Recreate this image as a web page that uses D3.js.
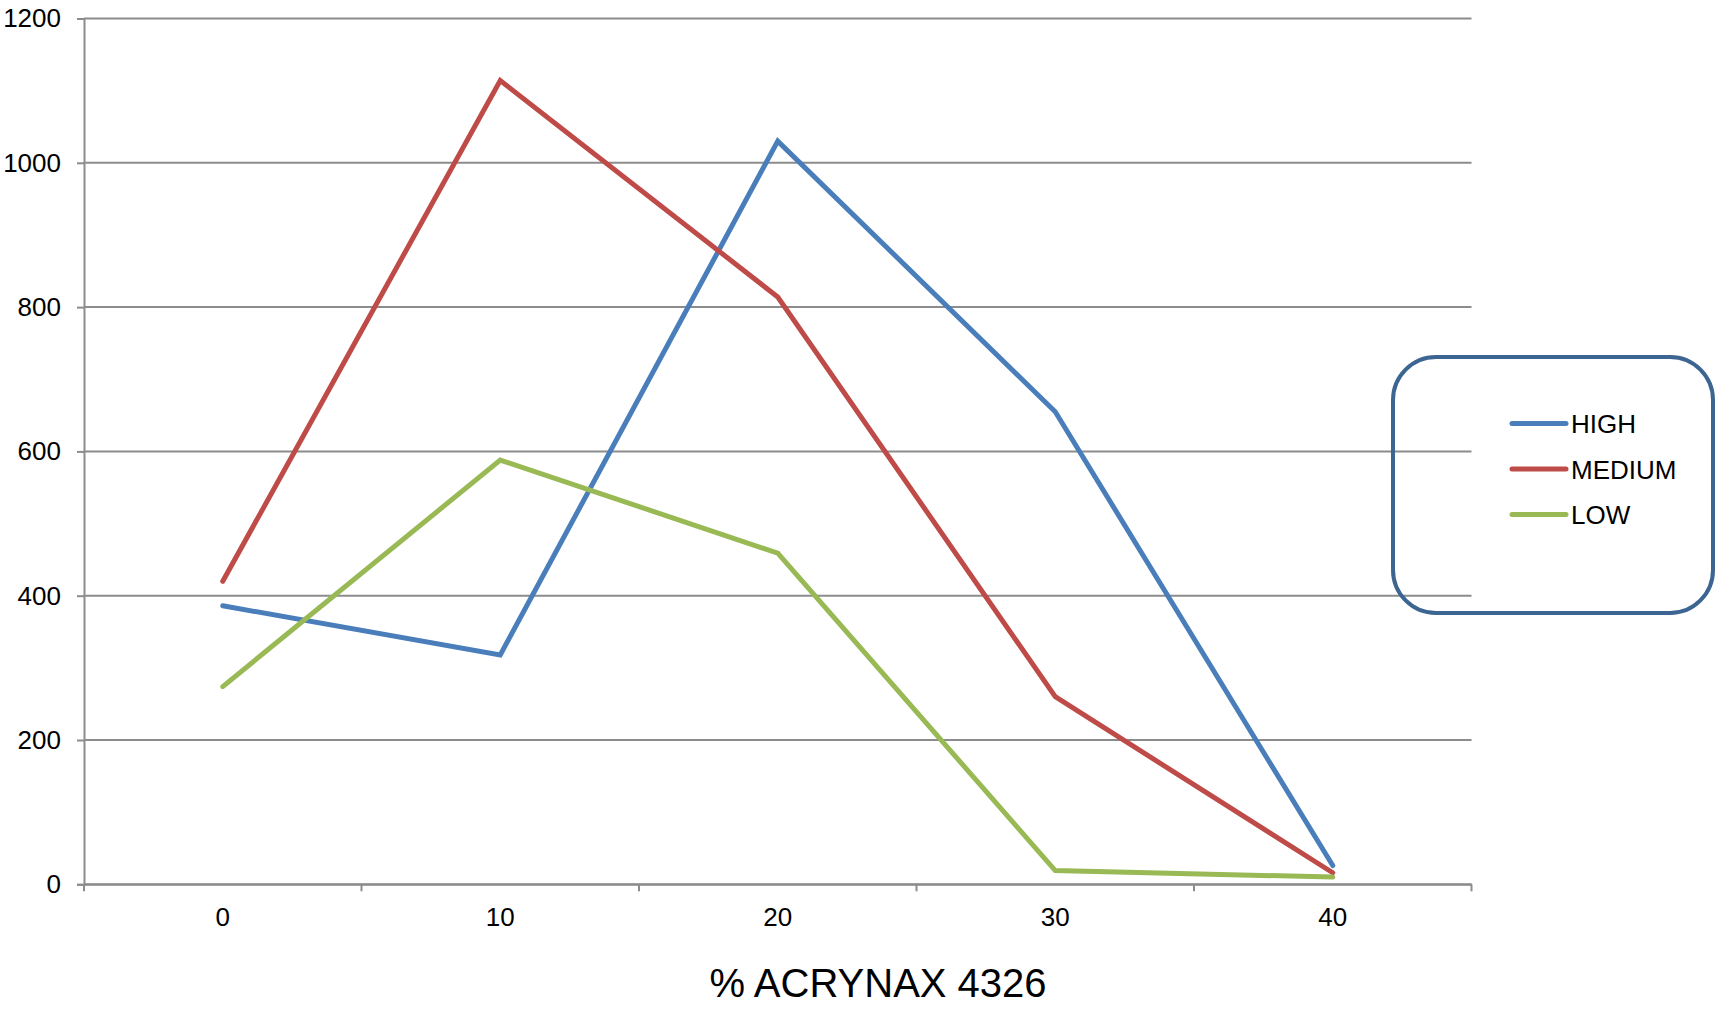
<!DOCTYPE html>
<html>
<head>
<meta charset="utf-8">
<script src="https://cdn.jsdelivr.net/npm/d3@7"></script>
<style>
    body { margin: 0; background: #fff; }
    svg text { font-family: 'Liberation Sans', Arial, sans-serif; fill: #000; }
</style>
</head>
<body>
<div id="chart"></div>
<script>
// data
const categories = ['0', '10', '20', '30', '40'];
const high = [386, 318, 1030, 655, 26];
const medium = [420, 1114, 814, 260, 16];
const low = [274, 588, 459, 19, 10];
const yTicks = [0, 200, 400, 600, 800, 1000, 1200];

const seriesList = [
    { name: 'HIGH', values: high, color: '#4a7ebb' },
    { name: 'MEDIUM', values: medium, color: '#be4b48' },
    { name: 'LOW', values: low, color: '#98b954' },
];

const width = 1720;
const height = 1009;
const plot = { left: 84, right: 1471.5, top: 18.5, bottom: 884.3 };

const svg = d3
    .select('#chart')
    .append('svg')
    .attr('width', width)
    .attr('height', height);

const x = d3
    .scaleBand()
    .domain(categories)
    .range([plot.left, plot.right]);

const y = d3
    .scaleLinear()
    .domain([0, 1200])
    .range([plot.bottom, plot.top]);

// gridlines
svg.append('g')
    .selectAll('line')
    .data(yTicks)
    .enter()
    .append('line')
    .attr('x1', plot.left)
    .attr('x2', plot.right)
    .attr('y1', (d) => y(d))
    .attr('y2', (d) => y(d))
    .attr('stroke', '#8c8c8c')
    .attr('stroke-width', 2);

// y axis
const yAxis = svg
    .append('g')
    .attr('transform', `translate(${plot.left},0)`)
    .call(
        d3
            .axisLeft(y)
            .tickValues(yTicks)
            .tickFormat(d3.format('d'))
            .tickSize(7)
            .tickPadding(16)
    );
yAxis.selectAll('line').attr('stroke', '#8c8c8c').attr('stroke-width', 2);
yAxis.select('.domain').attr('stroke', '#8c8c8c').attr('stroke-width', 2);
yAxis.selectAll('text').style('font-size', '26px');

// x axis: labels at centers, ticks at band edges
const xAxis = svg
    .append('g')
    .attr('transform', `translate(0,${plot.bottom})`)
    .call(d3.axisBottom(x).tickSize(0).tickPadding(23));
xAxis.select('.domain').attr('stroke', '#8c8c8c').attr('stroke-width', 2);
xAxis.selectAll('text').style('font-size', '26px');

const edges = categories.map((c) => x(c)).concat([x.range()[1]]);
xAxis
    .selectAll('line.edge')
    .data(edges)
    .enter()
    .append('line')
    .attr('class', 'edge')
    .attr('x1', (d) => d)
    .attr('x2', (d) => d)
    .attr('y1', 0)
    .attr('y2', 7)
    .attr('stroke', '#8c8c8c')
    .attr('stroke-width', 2);

// lines
const line = d3
    .line()
    .x((d, i) => x(categories[i]) + x.bandwidth() / 2)
    .y((d) => y(d));

svg.append('g')
    .selectAll('path')
    .data(seriesList)
    .enter()
    .append('path')
    .attr('d', (d) => line(d.values))
    .attr('fill', 'none')
    .attr('stroke', (d) => d.color)
    .attr('stroke-width', 5)
    .attr('stroke-linecap', 'round')
    .attr('stroke-linejoin', 'miter');

// legend
const legend = svg.append('g');
legend
    .append('rect')
    .attr('x', 1393)
    .attr('y', 357)
    .attr('width', 320)
    .attr('height', 256)
    .attr('rx', 43)
    .attr('fill', 'none')
    .attr('stroke', '#3d6591')
    .attr('stroke-width', 4);

const items = legend
    .selectAll('g.item')
    .data(seriesList)
    .enter()
    .append('g')
    .attr('class', 'item')
    .attr('transform', (d, i) => `translate(1512,${423.5 + i * 45.5})`);

items
    .append('line')
    .attr('x1', 0)
    .attr('x2', 54)
    .attr('stroke', (d) => d.color)
    .attr('stroke-width', 5)
    .attr('stroke-linecap', 'round');

items
    .append('text')
    .attr('x', 59)
    .attr('y', 9.5)
    .style('font-size', '26px')
    .text((d) => d.name);

// axis title
svg.append('text')
    .attr('x', 878)
    .attr('y', 997)
    .attr('text-anchor', 'middle')
    .style('font-size', '40px')
    .text('% ACRYNAX 4326');
</script>
</body>
</html>
